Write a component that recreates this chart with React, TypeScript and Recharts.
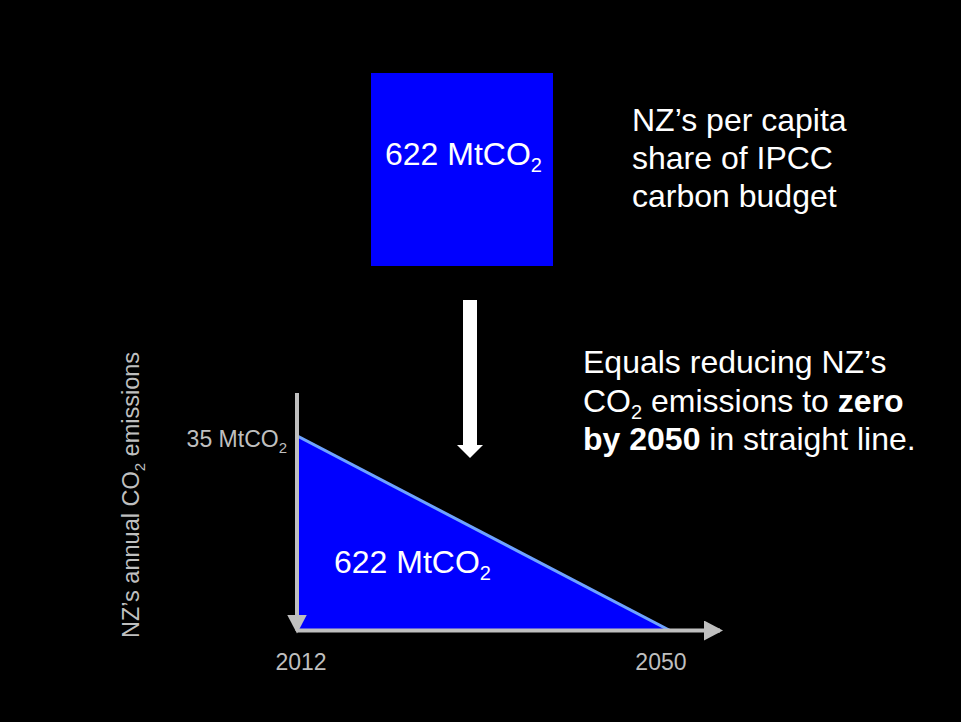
import { AreaChart, Area, XAxis, YAxis } from "recharts";

// values
const years = [2012, 2050];
const emissions = [35, 0]; // MtCO2 per year, straight line to zero
const xTicks = [2012, 2050];
const yTicks = [35];
const budgetMt = 622;

const data = years.map((year, i) => ({ year, co2: emissions[i] }));

const GRAY = "#bfbfbf";
const BLUE = "#0000ff";
const LINE = "#6fa3ff";
const FONT = '"Liberation Sans", Arial, Helvetica, sans-serif';

// slide labels sit a little off their tick positions
const xLabelNudge: Record<number, number> = { 2012: 4, 2050: -9 };

function YTick({ x, y, payload }: any) {
  return (
    <text x={x} y={y} dy={11} textAnchor="end" fill={GRAY} fontSize={23} fontFamily={FONT}>
      {payload.value} MtCO
      <tspan fontSize={15} dy={6}>2</tspan>
    </text>
  );
}

function XTick({ x, y, payload }: any) {
  return (
    <text
      x={x + (xLabelNudge[payload.value] ?? 0)}
      y={y}
      textAnchor="middle"
      fill={GRAY}
      fontSize={23}
      fontFamily={FONT}
    >
      {payload.value}
    </text>
  );
}

export default function App() {
  return (
    <div
      style={{
        position: "fixed",
        left: 0,
        top: 0,
        width: 961,
        height: 722,
        background: "#000",
        fontFamily: FONT,
        overflow: "hidden",
      }}
    >
      <svg width={0} height={0} style={{ position: "absolute" }}>
        <defs>
          <marker
            id="axisArrow"
            markerUnits="userSpaceOnUse"
            markerWidth={20}
            markerHeight={20}
            refX={16}
            refY={10}
            orient="auto"
          >
            <path d="M0,0 L19,10 L0,20 Z" fill={GRAY} />
          </marker>
        </defs>
      </svg>

      <AreaChart
        width={961}
        height={722}
        data={data}
        margin={{ top: 393, right: 241, bottom: 81.5, left: 287 }}
      >
        <XAxis
          dataKey="year"
          type="number"
          domain={[2012, 2055.1]}
          ticks={xTicks}
          allowDataOverflow
          height={10}
          tickLine={false}
          tickSize={0}
          tickMargin={39}
          tick={<XTick />}
          axisLine={{ stroke: GRAY, strokeWidth: 4, markerEnd: "url(#axisArrow)" }}
        />
        <YAxis
          type="number"
          domain={[0, 42.7]}
          ticks={yTicks}
          allowDataOverflow
          width={10}
          tickLine={false}
          tickSize={0}
          tickMargin={10}
          tick={<YTick />}
          axisLine={{ stroke: GRAY, strokeWidth: 4, markerEnd: "url(#axisArrow)" }}
        />
        <Area
          type="linear"
          dataKey="co2"
          stroke={LINE}
          strokeWidth={3}
          fill={BLUE}
          fillOpacity={1}
          isAnimationActive={false}
        />
      </AreaChart>

      <svg
        width={961}
        height={722}
        style={{ position: "absolute", left: 0, top: 0, pointerEvents: "none" }}
        fontFamily={FONT}
      >
        {/* per capita budget block */}
        <rect x={371} y={73} width={182} height={193} fill={BLUE} />
        <text x={385} y={165} fill="#fff" fontSize={32}>
          {budgetMt} MtCO
          <tspan fontSize={20} dy={7}>2</tspan>
        </text>

        <text x={632} y={131} fill="#fff" fontSize={32}>
          NZ’s per capita
        </text>
        <text x={632} y={169} fill="#fff" fontSize={32}>
          share of IPCC
        </text>
        <text x={632} y={207} fill="#fff" fontSize={32}>
          carbon budget
        </text>

        {/* down arrow */}
        <rect x={463} y={300} width={14} height={146} fill="#fff" />
        <path d="M457,445 L483,445 L470,458 Z" fill="#fff" />

        <text x={583} y={373} fill="#fff" fontSize={32}>
          Equals reducing NZ’s
        </text>
        <text x={583} y={412} fill="#fff" fontSize={32}>
          CO
          <tspan fontSize={20} dy={7}>2</tspan>
          <tspan dy={-7}> emissions to </tspan>
          <tspan fontWeight="bold">zero</tspan>
        </text>
        <text x={583} y={450} fill="#fff" fontSize={32}>
          <tspan fontWeight="bold">by {years[1]}</tspan> in straight line.
        </text>

        {/* area label */}
        <text x={334} y={573} fill="#fff" fontSize={32}>
          {budgetMt} MtCO
          <tspan fontSize={20} dy={7}>2</tspan>
        </text>

        {/* y axis title */}
        <text
          x={139}
          y={495}
          transform="rotate(-90 139 495)"
          textAnchor="middle"
          fill={GRAY}
          fontSize={23.5}
        >
          NZ’s annual CO
          <tspan fontSize={15} dy={6}>2</tspan>
          <tspan dy={-6}> emissions</tspan>
        </text>
      </svg>
    </div>
  );
}
